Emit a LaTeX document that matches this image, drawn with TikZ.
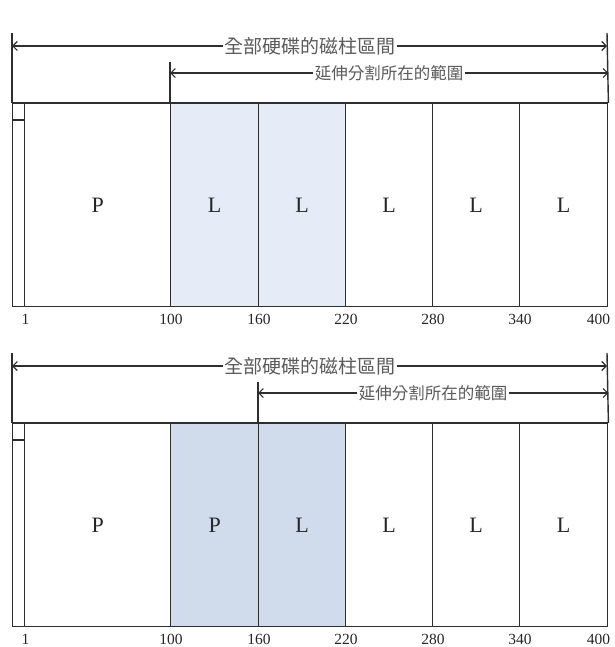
\documentclass[tikz,border=0pt]{standalone}
\usepackage{fontspec}
\setmainfont{Liberation Serif}
\newfontfamily\cjk{Noto Sans CJK TC}
\usetikzlibrary{arrows.meta,calc}
\definecolor{lineC}{HTML}{2E2E2E}
\definecolor{txtC}{HTML}{5A5A5A}
\definecolor{blueA}{HTML}{E6ECF7}
\definecolor{blueB}{HTML}{D0DBEC}
\tikzset{
 cell/.style={draw=lineC, line width=1.4pt, anchor=north west, minimum height=203pt, inner sep=0pt},
 celltxt/.style={font=\fontsize{22}{22}\selectfont, text=black!85, inner sep=0pt},
 dim/.style={draw=lineC, line width=1.1pt},
 tip/.style={-{Straight Barb[length=4.5pt,width=9pt]}},
 labA/.style={fill=white, inner sep=1.5pt, text=txtC, font=\cjk\fontsize{19}{19}\selectfont},
 labB/.style={fill=white, inner sep=1.5pt, text=txtC, font=\cjk\fontsize{16.5}{16.5}\selectfont},
 num/.style={font=\fontsize{15.5}{15.5}\selectfont, inner sep=0pt, text=black!85},
 guide/.style={draw=lineC, line width=1.4pt},
}
% #1 prefix, #2 yshift, #3 fill colour, #4 second cell label, #5 index of cell where extended range starts
\newcommand\diskrow[5]{%
\begin{scope}[yshift=#2]
 \node[cell, minimum width=12pt] (#1s) at (12,103) {};
 \draw[guide] ([yshift=-17pt]#1s.north west) -- ([yshift=-17pt]#1s.north east);
 \node[cell, minimum width=146pt] (#1c0) at (24,103) {};
 \node[cell, minimum width=88pt, fill=#3] (#1c1) at (170,103) {};
 \node[cell, minimum width=87pt, fill=#3] (#1c2) at (258,103) {};
 \node[cell, minimum width=87pt] (#1c3) at (345,103) {};
 \node[cell, minimum width=87pt] (#1c4) at (432,103) {};
 \node[cell, minimum width=88pt] (#1c5) at (519,103) {};
 \node[celltxt] (#1t0) at (#1c0.center) {P};
 \node[celltxt] (#1t1) at (#1c1.center) {#4};
 \node[celltxt] (#1t2) at (#1c2.center) {L};
 \node[celltxt] (#1t3) at (#1c3.center) {L};
 \node[celltxt] (#1t4) at (#1c4.center) {L};
 \node[celltxt] (#1t5) at (#1c5.center) {L};
 % guide lines
 \coordinate (#1gL) at (12,33);
 \coordinate (#1gR) at (607,33);
 \coordinate (#1gE) at ($(#1c#5.north west)+(0,-41)$);
 \draw[guide] (#1gL) -- (#1s.north west);
 \draw[guide] (#1gR) -- (#1c5.north east);
 \draw[guide] (#1gE) -- (#1c#5.north west);
 \draw[guide] (#1s.north west) -- (#1c5.north east);
 % whole disk arrow
 \coordinate (#1aL) at (12,46);
 \coordinate (#1aR) at (607,46);
 \node[labA] (#1la) at (310,46) {全部硬碟的磁柱區間};
 \draw[dim, tip] (#1la.west) -- (#1aL);
 \draw[dim, tip] (#1la.east) -- (#1aR);
 % extended partition arrow
 \coordinate (#1bL) at ($(#1c#5.north west)+(0,-30)$);
 \coordinate (#1bR) at ($(#1c5.north east)+(0,-30)$);
 \node[labB] (#1lb) at ($(#1bL)!0.5!(#1bR)$) {延伸分割所在的範圍};
 \draw[dim, tip] (#1lb.west) -- (#1bL);
 \draw[dim, tip] (#1lb.east) -- (#1bR);
 % cylinder numbers
 \node[num] (#1n0) at ([xshift=1.5pt,yshift=-12pt]#1c0.south west) {1};
 \node[num] (#1n1) at ([xshift=1pt,yshift=-12pt]#1c1.south west) {100};
 \node[num] (#1n2) at ([xshift=1pt,yshift=-12pt]#1c2.south west) {160};
 \node[num] (#1n3) at ([xshift=1pt,yshift=-12pt]#1c3.south west) {220};
 \node[num] (#1n4) at ([xshift=1pt,yshift=-12pt]#1c4.south west) {280};
 \node[num] (#1n5) at ([xshift=1pt,yshift=-12pt]#1c5.south west) {340};
 \node[num, anchor=east] (#1n6) at ([xshift=2pt,yshift=-12pt]#1c5.south east) {400};
\end{scope}}
\begin{document}
\begin{tikzpicture}[x=1pt,y=-1pt]
 \useasboundingbox (0,0) rectangle (614,647);
 \diskrow{a}{0pt}{blueA}{L}{1}
 \diskrow{b}{-320pt}{blueB}{P}{2}
\end{tikzpicture}
\end{document}
